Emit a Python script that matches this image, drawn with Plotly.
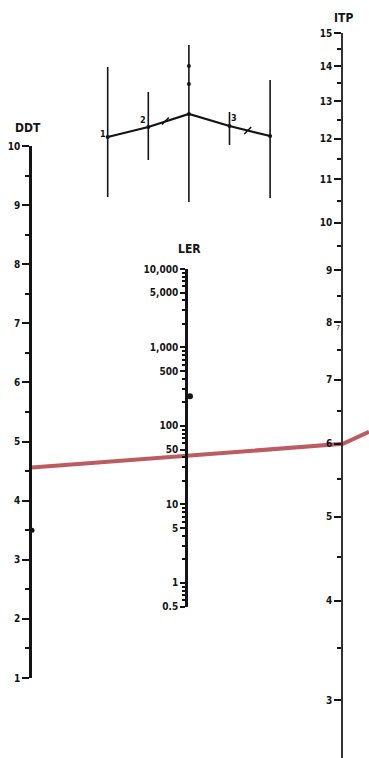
import math
import plotly.graph_objects as go

W, H = 369, 758

# ---------------- data ----------------
DDT_TICKS = [1, 2, 3, 4, 5, 6, 7, 8, 9, 10]
DDT_MINOR = [1.5, 2.5, 3.5, 4.5, 5.5, 6.5, 7.5, 8.5, 9.5]
LER_TICKS = [0.5, 1, 5, 10, 50, 100, 500, 1000, 5000, 10000]
LER_LABELS = ["0.5", "1", "5", "10", "50", "100", "500", "1,000", "5,000", "10,000"]
LER_MINOR = [0.6, 0.7, 0.8, 0.9, 2, 3, 4, 6, 7, 8, 9, 20, 30, 40, 60, 70, 80, 90,
             200, 300, 400, 600, 700, 800, 900, 2000, 3000, 4000, 6000, 7000, 8000, 9000]
ITP_TICKS = [3, 4, 5, 6, 7, 8, 9, 10, 11, 12, 13, 14, 15]
ITP_MINOR = [3.5, 4.5, 5.5, 6.5, 7.5, 8.5, 9.5, 10.5, 11.5, 12.5, 13.5, 14.5]
DDT_POINT = [3.5]
LER_POINT = [240]
READ_DDT = 4.56
READ_ITP = 6.0

# inset schematic (abstract units)
INSET_X = [0, 1, 2, 3, 4]
INSET_TOP = [13.3, 10.8, 15.5, 8.8, 12.0]
INSET_BOTTOM = [0.3, 4.0, -0.2, 5.5, 0.2]
INSET_PATH_Y = [6.3, 7.3, 8.6, 7.4, 6.4]
INSET_LABELS = ["1", "2", "3"]

# ---------------- scale geometry ----------------
AX_X = {"ddt": 32, "ler": 188, "itp": 343}
DDT_PX = (146, 678); DDT_RANGE = (1, 10)
LER_PX = (269, 606.6); LER_RANGE = (math.log10(0.5), 4)
ITP_OFFSET = 2
ITP_TOP_PX = 33
ITP_PX_PER_DEC = 1255
ITP_TOP = math.log10(15 + ITP_OFFSET)
ITP_RANGE = (ITP_TOP - (H - ITP_TOP_PX) / ITP_PX_PER_DEC, ITP_TOP)
ITP_PX = (ITP_TOP_PX, H)
STRIP = 10  # px width of each scale's helper x-domain


def dom(px):
    return [1 - px[1] / H, 1 - px[0] / H]


def xdom(px_x):
    return [px_x / W, (px_x + STRIP) / W]


def to_px(u, px, rng):
    return px[1] - (u - rng[0]) / (rng[1] - rng[0]) * (px[1] - px[0])


def ddt_px(v):
    return to_px(v, DDT_PX, DDT_RANGE)


def itp_px(v):
    return to_px(math.log10(v + ITP_OFFSET), ITP_PX, ITP_RANGE)


FONT = "Liberation Sans Narrow, DejaVu Sans Condensed, Roboto Condensed, Arial Narrow, sans-serif"
INK = "#141414"

fig = go.Figure()

# red reading line (overlay pixel frame)
red_x = [AX_X["ddt"], AX_X["itp"], W]
red_y = [ddt_px(READ_DDT), itp_px(READ_ITP), itp_px(READ_ITP) - 12]
fig.add_trace(go.Scatter(x=red_x, y=red_y, xaxis="x", yaxis="y4", mode="lines",
                         line=dict(color="rgba(176,62,68,0.85)", width=4), hoverinfo="skip"))

# points on scales
fig.add_trace(go.Scatter(x=[0] * len(DDT_POINT), y=DDT_POINT, xaxis="x3", yaxis="y",
                         mode="markers", marker=dict(color=INK, size=5), hoverinfo="skip",
                         cliponaxis=False))
fig.add_trace(go.Scatter(x=[0.2] * len(LER_POINT), y=LER_POINT, xaxis="x4", yaxis="y2",
                         mode="markers", marker=dict(color=INK, size=6), hoverinfo="skip",
                         cliponaxis=False))
fig.add_trace(go.Scatter(x=[0], y=[ITP_TICKS[-1] + ITP_OFFSET], xaxis="x5", yaxis="y3",
                         mode="markers", marker=dict(size=1, color="rgba(0,0,0,0)"),
                         hoverinfo="skip"))

# inset schematic
for xi, t, b in zip(INSET_X, INSET_TOP, INSET_BOTTOM):
    fig.add_trace(go.Scatter(x=[xi, xi], y=[b, t], xaxis="x2", yaxis="y5", mode="lines",
                             line=dict(color=INK, width=1.6), hoverinfo="skip"))
fig.add_trace(go.Scatter(x=INSET_X, y=INSET_PATH_Y, xaxis="x2", yaxis="y5", mode="lines+markers",
                         line=dict(color=INK, width=2.2), marker=dict(size=4, color=INK),
                         hoverinfo="skip"))
fig.add_trace(go.Scatter(x=[2, 2], y=[13.4, 11.6], xaxis="x2", yaxis="y5", mode="markers",
                         marker=dict(size=4, color=INK), hoverinfo="skip"))
fig.add_trace(go.Scatter(x=[1.42, 3.45], y=[7.9, 6.95], xaxis="x2", yaxis="y5", mode="markers",
                         marker=dict(symbol="line-ne", size=7, line=dict(color=INK, width=1.6)),
                         hoverinfo="skip"))
for xi, yi, lab in zip([-0.12, 0.86, 3.1], [6.6, 8.0, 8.2], INSET_LABELS):
    fig.add_annotation(x=xi, y=yi, xref="x2", yref="y5", text=lab, showarrow=False,
                       font=dict(family=FONT, size=9, color=INK, weight="bold"))

axis_common = dict(showgrid=False, zeroline=False, showline=True,
                   ticks="outside", side="left", automargin=False,
                   tickfont=dict(family=FONT, size=10, color=INK, weight="bold"),
                   fixedrange=True)
hidden_x = dict(range=[0, 1], visible=False, fixedrange=True, automargin=False)

fig.update_layout(
    template="none",
    width=W, height=H, margin=dict(l=0, r=0, t=0, b=0, pad=0),
    paper_bgcolor="white", plot_bgcolor="rgba(0,0,0,0)", showlegend=False,
    xaxis=dict(domain=[0, 1], range=[0, W], visible=False, anchor="y4", fixedrange=True,
               automargin=False),
    yaxis4=dict(domain=[0, 1], range=[H, 0], visible=False, anchor="x", fixedrange=True,
                automargin=False),
    xaxis3=dict(domain=xdom(AX_X["ddt"]), anchor="y", **hidden_x),
    xaxis4=dict(domain=xdom(AX_X["ler"]), anchor="y2", **hidden_x),
    xaxis5=dict(domain=xdom(AX_X["itp"]), anchor="y3", **hidden_x),
    yaxis=dict(domain=dom(DDT_PX), range=list(DDT_RANGE), anchor="x3",
               tickvals=DDT_TICKS, ticktext=[str(v) for v in DDT_TICKS],
               ticklen=7, tickwidth=2, linewidth=2.5, linecolor=INK, tickcolor=INK,
               minor=dict(tickvals=DDT_MINOR, ticks="outside", ticklen=4, tickwidth=1.5,
                          tickcolor=INK, showgrid=False),
               **axis_common),
    yaxis2=dict(domain=dom(LER_PX), type="log", range=list(LER_RANGE), anchor="x4",
                tickvals=LER_TICKS, ticktext=LER_LABELS,
                ticklen=5, tickwidth=2, linewidth=2.5, linecolor=INK, tickcolor=INK,
                minor=dict(tickvals=LER_MINOR, ticks="outside", ticklen=3, tickwidth=1.5,
                           tickcolor=INK, showgrid=False),
                **axis_common),
    yaxis3=dict(domain=dom(ITP_PX), type="log", range=list(ITP_RANGE), anchor="x5",
                tickvals=[v + ITP_OFFSET for v in ITP_TICKS], ticktext=[str(v) for v in ITP_TICKS],
                ticklen=7, tickwidth=2, linewidth=1.6, linecolor="#333333", tickcolor=INK,
                minor=dict(tickvals=[v + ITP_OFFSET for v in ITP_MINOR], ticks="outside",
                           ticklen=4, tickwidth=1.5, tickcolor=INK, showgrid=False),
                **axis_common),
    xaxis2=dict(domain=[87.4 / W, 290.4 / W], range=[-0.5, 4.5], visible=False, anchor="y5",
                fixedrange=True, automargin=False),
    yaxis5=dict(domain=[1 - 210 / H, 1 - 40 / H], range=[-1, 16], visible=False, anchor="x2",
                fixedrange=True, automargin=False),
)

for txt, px_x, px_y in [("DDT", 28, 128), ("LER", 189, 249), ("ITP", 343, 18)]:
    fig.add_annotation(x=px_x / W, y=1 - px_y / H, xref="paper", yref="paper", text=txt,
                       showarrow=False, xanchor="center", yanchor="middle",
                       font=dict(family=FONT, size=12, color=INK, weight="bold"))

fig.add_annotation(x=0, y=math.log10(7.9 + ITP_OFFSET), xref="x5", yref="y3", xshift=-5,
                   text="7", showarrow=False, font=dict(family=FONT, size=7, color=INK))

fig.write_html("out.html", config={"displayModeBar": False},
               post_script="document.body.style.margin='0';")
